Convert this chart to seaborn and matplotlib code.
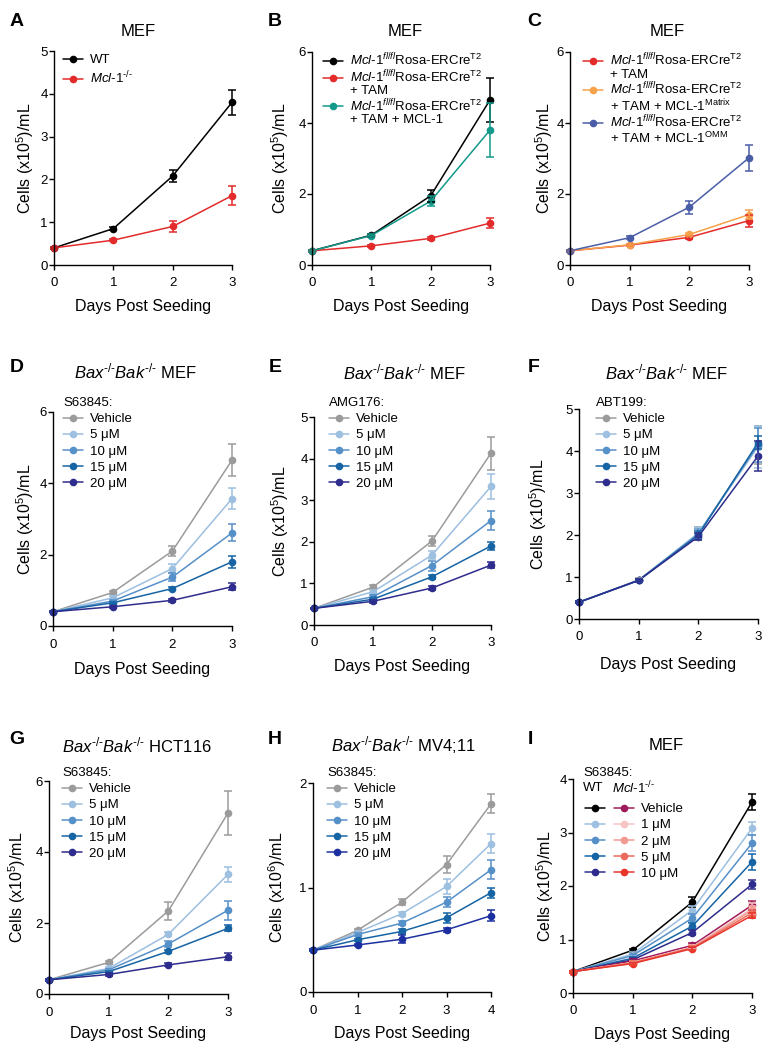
import numpy as np
import pandas as pd
import matplotlib
matplotlib.use("Agg")
import matplotlib.pyplot as plt
import seaborn as sns
from matplotlib.lines import Line2D
from matplotlib.legend_handler import HandlerTuple

# ---------------- data ----------------
days3 = [0, 1, 2, 3]
days4 = [0, 1, 2, 3, 4]

KO = r"$\mathit{Mcl}$-$\mathit{1}^{\text{-/-}}$"
A_groups = ["WT", KO]
A_mean = [[0.40, 0.85, 2.08, 3.80], [0.40, 0.58, 0.90, 1.62]]
A_err = [[0.02, 0.04, 0.15, 0.30], [0.02, 0.03, 0.12, 0.22]]
A_colors = ["#000000", "#e32b2b"]

mcl_lab = r"$\mathit{Mcl}$-$\mathit{1}^{\mathit{fl/fl}}$Rosa-ERCre$^{\mathrm{T2}}$"
B_groups = ["B0", "B1", "B2"]
B_labels = [mcl_lab, mcl_lab, "+ TAM", mcl_lab, "+ TAM + MCL-1"]
B_mean = [[0.40, 0.84, 1.95, 4.65], [0.40, 0.54, 0.75, 1.18], [0.40, 0.83, 1.80, 3.80]]
B_err = [[0.02, 0.04, 0.17, 0.62], [0.02, 0.03, 0.04, 0.13], [0.02, 0.04, 0.15, 0.75]]
B_colors = ["#000000", "#e32b2b", "#13998a"]

C_groups = ["C0", "C1", "C2"]
C_labels = [mcl_lab, "+ TAM", mcl_lab, "+ TAM + MCL-1$^{\\mathrm{Matrix}}$", mcl_lab, "+ TAM + MCL-1$^{\\mathrm{OMM}}$"]
C_mean = [[0.40, 0.56, 0.78, 1.25], [0.40, 0.57, 0.86, 1.42], [0.40, 0.77, 1.63, 3.02]]
C_err = [[0.02, 0.03, 0.05, 0.17], [0.02, 0.03, 0.05, 0.13], [0.02, 0.04, 0.18, 0.36]]
C_colors = ["#e32b2b", "#f7a24b", "#4a5ea8"]

dose_labels = ["Vehicle", "5 \u03bcM", "10 \u03bcM", "15 \u03bcM", "20 \u03bcM"]
dose_colors = ["#9b9b9b", "#9dbfe0", "#5690c8", "#1664a4", "#2e2c8c"]

D_mean = [[0.40, 0.94, 2.10, 4.65], [0.40, 0.79, 1.61, 3.57], [0.40, 0.70, 1.37, 2.61],
          [0.40, 0.65, 1.05, 1.80], [0.40, 0.54, 0.72, 1.10]]
D_err = [[0.02, 0.05, 0.15, 0.44], [0.02, 0.04, 0.12, 0.30], [0.02, 0.03, 0.12, 0.24],
         [0.02, 0.03, 0.05, 0.17], [0.02, 0.03, 0.04, 0.10]]

E_mean = [[0.40, 0.91, 2.02, 4.13], [0.40, 0.80, 1.68, 3.33], [0.40, 0.68, 1.43, 2.51],
          [0.40, 0.62, 1.16, 1.90], [0.40, 0.57, 0.89, 1.44]]
E_err = [[0.02, 0.04, 0.13, 0.40], [0.02, 0.04, 0.10, 0.29], [0.02, 0.03, 0.12, 0.22],
         [0.02, 0.03, 0.05, 0.10], [0.02, 0.03, 0.04, 0.08]]

F_mean = [[0.40, 0.93, 2.03, 4.15], [0.40, 0.92, 2.05, 4.10], [0.40, 0.92, 2.02, 4.15],
          [0.40, 0.92, 2.00, 4.20], [0.40, 0.92, 1.96, 3.88]]
F_err = [[0.02, 0.04, 0.15, 0.45], [0.02, 0.04, 0.15, 0.50], [0.02, 0.04, 0.12, 0.40],
         [0.02, 0.03, 0.10, 0.15], [0.02, 0.03, 0.08, 0.35]]

G_mean = [[0.40, 0.89, 2.34, 5.10], [0.40, 0.72, 1.68, 3.37], [0.40, 0.68, 1.41, 2.36],
          [0.40, 0.63, 1.20, 1.85], [0.40, 0.55, 0.82, 1.05]]
G_err = [[0.02, 0.04, 0.26, 0.62], [0.02, 0.03, 0.06, 0.22], [0.02, 0.03, 0.08, 0.27],
         [0.02, 0.03, 0.05, 0.08], [0.02, 0.03, 0.04, 0.10]]

H_mean = [[0.40, 0.59, 0.86, 1.22, 1.80], [0.40, 0.57, 0.75, 1.01, 1.42], [0.40, 0.55, 0.66, 0.86, 1.17],
          [0.40, 0.50, 0.58, 0.71, 0.95], [0.40, 0.45, 0.505, 0.595, 0.73]]
H_err = [[0.01, 0.01, 0.03, 0.08, 0.09], [0.01, 0.01, 0.02, 0.07, 0.09], [0.01, 0.01, 0.02, 0.05, 0.09],
         [0.01, 0.01, 0.02, 0.05, 0.05], [0.01, 0.01, 0.04, 0.02, 0.05]]
H_colors = ["#9b9b9b", "#9dbfe0", "#5690c8", "#1664a4", "#1c2fa0"]

I_labels = ["Vehicle", "1 \u03bcM", "2 \u03bcM", "5 \u03bcM", "10 \u03bcM"]
I_wt_mean = [[0.40, 0.80, 1.70, 3.57], [0.40, 0.73, 1.55, 3.08], [0.40, 0.70, 1.40, 2.80],
             [0.40, 0.65, 1.25, 2.45], [0.40, 0.62, 1.13, 2.03]]
I_wt_err = [[0.02, 0.03, 0.10, 0.15], [0.02, 0.03, 0.08, 0.12], [0.02, 0.03, 0.07, 0.15],
            [0.02, 0.03, 0.06, 0.15], [0.02, 0.03, 0.05, 0.08]]
I_ko_mean = [[0.40, 0.60, 0.89, 1.64], [0.40, 0.57, 0.86, 1.58], [0.40, 0.57, 0.85, 1.55],
             [0.40, 0.56, 0.84, 1.50], [0.40, 0.55, 0.83, 1.45]]
I_ko_err = [[0.02, 0.03, 0.05, 0.08], [0.02, 0.03, 0.04, 0.10], [0.02, 0.03, 0.04, 0.08],
            [0.02, 0.03, 0.04, 0.06], [0.02, 0.02, 0.03, 0.05]]
I_wt_colors = ["#000000", "#9dbfe0", "#5690c8", "#1664a4", "#2e2c8c"]
I_ko_colors = ["#9e1a5a", "#f6c5c3", "#f19a92", "#ec6a5c", "#e8352a"]

# ---------------- style ----------------
sns.set_theme(style="ticks")
plt.rcParams.update({
    "font.family": ["Liberation Sans", "DejaVu Sans"],
    "mathtext.fontset": "custom",
    "mathtext.rm": "Liberation Sans",
    "mathtext.it": "Liberation Sans:italic",
    "mathtext.bf": "Liberation Sans:bold",
    "axes.edgecolor": "black",
    "axes.labelcolor": "black",
    "text.color": "black",
    "xtick.color": "black",
    "ytick.color": "black",
    "axes.linewidth": 1.0,
    "xtick.major.size": 3.5,
    "ytick.major.size": 3.5,
    "xtick.major.width": 1.0,
    "ytick.major.width": 1.0,
    "xtick.major.pad": 5.5,
    "ytick.major.pad": 1.0,
    "xtick.labelsize": 9.5,
    "ytick.labelsize": 9.5,
})

W, H = 772, 1050
fig = plt.figure(figsize=(W / 100, H / 100), dpi=100)

LW = 1.1
MS = 5.5
CAP = 3.2
LEG_FS = 9.5


def fx(x):
    return x / W


def fy(y):
    return 1 - y / H


def add_ax(x0, x1, ytop, ybot):
    return fig.add_axes([x0 / W, 1 - ybot / H, (x1 - x0) / W, (ybot - ytop) / H])


def draw(ax, days, names, means, errs, colors):
    rows = []
    for n, m in zip(names, means):
        for d, v in zip(days, m):
            rows.append({"day": d, "value": v, "group": n})
    df = pd.DataFrame(rows)
    sns.lineplot(data=df, x="day", y="value", hue="group", hue_order=names,
                 palette=dict(zip(names, colors)), marker="o", markersize=MS,
                 markeredgewidth=0, linewidth=LW, legend=False, errorbar=None, ax=ax)
    for m, e, c in zip(means, errs, colors):
        ax.errorbar(days, m, yerr=e, fmt="none", ecolor=c, elinewidth=1.1,
                    capsize=CAP, capthick=1.1, clip_on=False)
    for ln in ax.lines:
        ln.set_clip_on(False)
    for coll in ax.collections:
        coll.set_clip_on(False)


def style(ax, xmax, ymax, yticks, ylab="Cells (x10$^5$)/mL", xpad=7, ypad=5):
    ax.set_xlim(0, xmax)
    ax.set_ylim(0, ymax)
    ax.set_xticks(range(0, xmax + 1))
    ax.set_yticks(yticks)
    sns.despine(ax=ax)
    ax.set_xlabel("Days Post Seeding", fontsize=11.5, labelpad=xpad)
    ax.set_ylabel(ylab, fontsize=11.5, labelpad=ypad)


def handle(c):
    return Line2D([0], [0], color=c, marker="o", markersize=MS, markeredgewidth=0, lw=LW)


def blank():
    return Line2D([0], [0], color="none", lw=0)


def legend(ax, handles, labels, x, y, title=None, spacing=0.28):
    kw = dict(loc="upper left", bbox_to_anchor=(fx(x), fy(y)), bbox_transform=fig.transFigure,
              frameon=False, borderpad=0, borderaxespad=0, handlelength=1.5,
              handletextpad=0.55, labelspacing=spacing, fontsize=LEG_FS)
    if title is not None:
        kw.update(title=title, title_fontsize=LEG_FS, alignment="left")
    return ax.legend(handles, labels, **kw)


def ftext(x, y, s, **kw):
    fig.text(fx(x), fy(y), s, ha=kw.pop("ha", "center"), va=kw.pop("va", "center"), **kw)


# ---------------- panel A ----------------
axA = add_ax(54, 232, 51, 265)
draw(axA, days3, A_groups, A_mean, A_err, A_colors)
style(axA, 3, 5, range(0, 6), ypad=3)
legend(axA, [handle(c) for c in A_colors], A_groups, 63, 54, spacing=0.25)

# ---------------- panel B ----------------
axB = add_ax(312, 490, 52, 265)
draw(axB, days3, B_groups, B_mean, B_err, B_colors)
style(axB, 3, 6, [0, 2, 4, 6], ypad=5)
legend(axB, [handle(B_colors[0]), handle(B_colors[1]), blank(), handle(B_colors[2]), blank()],
       B_labels, 323, 52, spacing=0.0)

# ---------------- panel C ----------------
axC = add_ax(570, 749, 52, 265)
draw(axC, days3, C_groups, C_mean, C_err, C_colors)
style(axC, 3, 6, [0, 2, 4, 6], ypad=1)
legend(axC, [handle(C_colors[0]), blank(), handle(C_colors[1]), blank(), handle(C_colors[2]), blank()],
       C_labels, 583, 52, spacing=0.0)

# ---------------- panel D ----------------
axD = add_ax(53, 232, 412, 626)
draw(axD, days3, dose_labels, D_mean, D_err, dose_colors)
style(axD, 3, 6, [0, 2, 4, 6], xpad=8.5, ypad=2.4)
legend(axD, [handle(c) for c in dose_colors], dose_labels, 63, 397, title="S63845:", spacing=0.3)

# ---------------- panel E ----------------
axE = add_ax(314, 491, 417, 625)
draw(axE, days3, dose_labels, E_mean, E_err, dose_colors)
style(axE, 3, 5, range(0, 6), ypad=6.5)
legend(axE, [handle(c) for c in dose_colors], dose_labels, 329, 397, title="AMG176:", spacing=0.3)

# ---------------- panel F ----------------
axF = add_ax(579, 758, 409, 619)
draw(axF, days3, dose_labels, F_mean, F_err, dose_colors)
style(axF, 3, 5, range(0, 6), xpad=9.6, ypad=12)
legend(axF, [handle(c) for c in dose_colors], dose_labels, 596, 397, title="ABT199:", spacing=0.3)

# ---------------- panel G ----------------
axG = add_ax(49, 228, 781, 994)
draw(axG, days3, dose_labels, G_mean, G_err, dose_colors)
style(axG, 3, 6, [0, 2, 4, 6], xpad=5.3, ypad=5)
legend(axG, [handle(c) for c in dose_colors], dose_labels, 62, 767, title="S63845:", spacing=0.3)

# ---------------- panel H ----------------
axH = add_ax(313, 491, 783, 992)
draw(axH, days4, dose_labels, H_mean, H_err, H_colors)
style(axH, 4, 2, [0, 1, 2], ylab="Cells (x10$^6$)/mL", xpad=7, ypad=8)
legend(axH, [handle(c) for c in H_colors], dose_labels, 327, 767, title="S63845:", spacing=0.3)

# ---------------- panel I ----------------
axI = add_ax(573, 752, 779, 993)
I_wt_names = ["WT " + s for s in I_labels]
I_ko_names = ["KO " + s for s in I_labels]
draw(axI, days3, I_wt_names + I_ko_names, I_wt_mean + I_ko_mean, I_wt_err + I_ko_err,
     I_wt_colors + I_ko_colors)
style(axI, 3, 4, range(0, 5), xpad=7, ypad=2.4)
axI.legend([(handle(a), handle(b)) for a, b in zip(I_wt_colors, I_ko_colors)], I_labels,
           handler_map={tuple: HandlerTuple(ndivide=None, pad=0.7)},
           loc="upper left", bbox_to_anchor=(fx(585), fy(803)), bbox_transform=fig.transFigure,
           frameon=False, borderpad=0, borderaxespad=0, handlelength=3.7,
           handletextpad=0.55, labelspacing=0.3, fontsize=LEG_FS)
ftext(583, 773, "S63845:", ha="left", fontsize=LEG_FS)
ftext(583, 788, "WT", ha="left", fontsize=LEG_FS)
ftext(612, 788, KO, ha="left", fontsize=LEG_FS)

# ---------------- titles & panel letters ----------------
BB = r"$\mathit{Bax}^{\text{-/-}}\mathit{Bak}^{\text{-/-}}$"
ftext(138, 32, "MEF", fontsize=12)
ftext(405, 32, "MEF", fontsize=12)
ftext(667, 32, "MEF", fontsize=12)
ftext(136, 371, BB + " MEF", fontsize=12)
ftext(405, 372, BB + " MEF", fontsize=12)
ftext(667, 372, BB + " MEF", fontsize=12)
ftext(137, 745, BB + " HCT116", fontsize=12)
ftext(404, 745, BB + " MV4;11", fontsize=12)
ftext(666, 745, "MEF", fontsize=12)

for s, x, y in [("A", 17, 21), ("B", 275, 21), ("C", 534, 21),
                ("D", 17, 367), ("E", 275, 367), ("F", 534, 367),
                ("G", 17, 740), ("H", 275, 740), ("I", 530, 740)]:
    ftext(x, y, s, fontsize=14, fontweight="bold")

fig.savefig("out.png", dpi=100)
